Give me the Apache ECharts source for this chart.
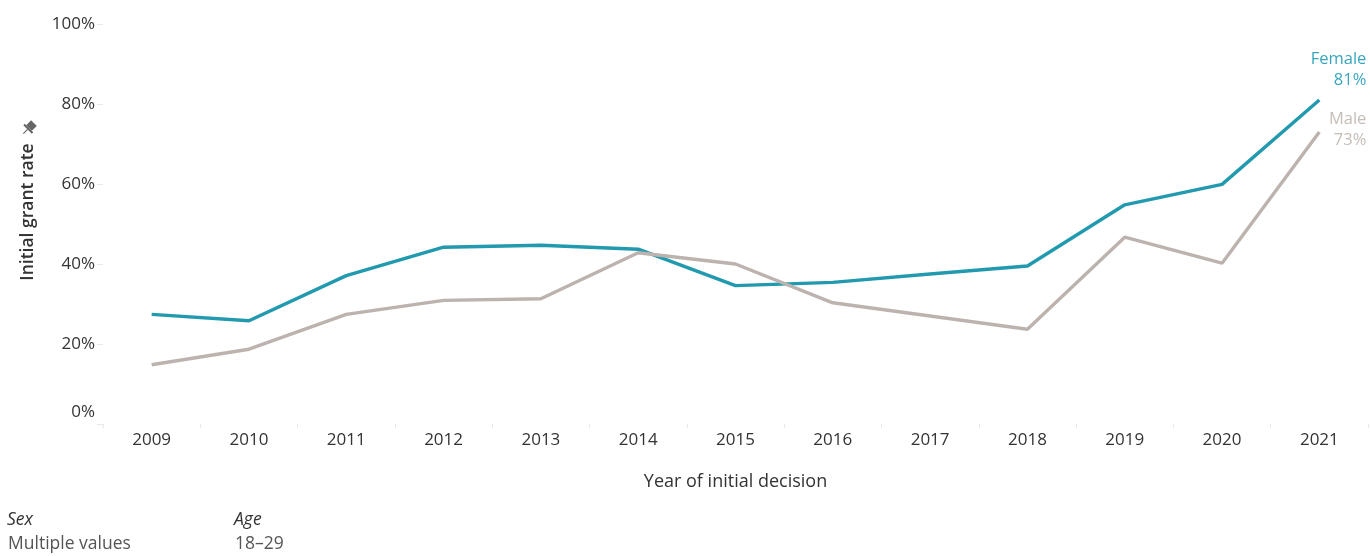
<!DOCTYPE html>
<html>
<head>
<meta charset="utf-8">
<script src="https://cdn.jsdelivr.net/npm/echarts@6/dist/echarts.min.js"></script>
<style>
  html, body { margin: 0; padding: 0; background: #fff; }
  #chart { width: 1370px; height: 556px; }
</style>
</head>
<body>
<div id="chart"></div>
<script>
// data
var years = ['2009', '2010', '2011', '2012', '2013', '2014', '2015', '2016', '2017', '2018', '2019', '2020', '2021'];
var femaleRate = [27.4, 25.8, 37.1, 44.2, 44.7, 43.7, 34.6, 35.4, 37.5, 39.5, 54.8, 59.9, 81.0];
var maleRate = [14.8, 18.7, 27.4, 30.9, 31.3, 42.8, 40.0, 30.3, 27.0, 23.7, 46.7, 40.2, 73.0];
var yTicks = [0, 20, 40, 60, 80, 100];

var FONT = '"Open Sans", "Noto Sans", sans-serif';
var TEAL = '#2199ae';
var GREY = '#bcb3ae';

var chart = echarts.init(document.getElementById('chart'));

chart.setOption({
    animation: false,
    grid: {
        left: 103,
        right: 2,
        top: 24,
        bottom: 132
    },
    xAxis: {
        type: 'category',
        data: years,
        boundaryGap: true,
        name: 'Year of initial decision',
        nameLocation: 'middle',
        nameGap: 49,
        nameTextStyle: { fontFamily: FONT, fontSize: 18, color: '#333' },
        axisLine: { show: false },
        axisTick: { show: true, length: 4, lineStyle: { color: '#e8e8e8' } },
        axisLabel: { margin: 8, fontFamily: FONT, fontSize: 17, color: '#333' },
        splitLine: { show: false }
    },
    yAxis: {
        type: 'value',
        min: yTicks[0],
        max: yTicks[yTicks.length - 1],
        interval: 20,
        name: 'Initial grant rate',
        nameLocation: 'middle',
        nameGap: 66,
        nameTextStyle: { fontFamily: FONT, fontSize: 17.5, color: '#333', fontWeight: 600, padding: [0, 0, 0, 24] },
        axisLine: { show: false },
        axisTick: { show: true, length: 6, lineStyle: { color: '#e8e8e8' } },
        axisLabel: {
            margin: 8,
            fontFamily: FONT,
            fontSize: 17,
            color: '#333',
            formatter: function (v) {
                // tableau lifts the bottom label a bit
                return v === 0 ? '{z|0%}' : v + '%';
            },
            rich: {
                z: { fontFamily: FONT, fontSize: 17, color: '#333', padding: [0, 0, 24, 0] }
            }
        },
        splitLine: { show: false }
    },
    series: [
        {
            name: 'Female',
            type: 'line',
            data: femaleRate,
            symbol: 'none',
            lineStyle: { color: TEAL, width: 3.4 },
            itemStyle: { color: TEAL },
            endLabel: {
                show: true,
                formatter: function (p) { return p.seriesName + '\n' + Math.round(p.value) + '%'; },
                align: 'right',
                verticalAlign: 'bottom',
                offset: [39, -9],
                lineHeight: 21,
                fontFamily: FONT,
                fontSize: 16.5,
                color: '#3aa6bd'
            }
        },
        {
            name: 'Male',
            type: 'line',
            data: maleRate,
            symbol: 'none',
            lineStyle: { color: GREY, width: 3.4 },
            itemStyle: { color: GREY },
            endLabel: {
                show: true,
                formatter: function (p) { return p.seriesName + '\n' + Math.round(p.value) + '%'; },
                align: 'right',
                verticalAlign: 'bottom',
                offset: [39, 19],
                lineHeight: 21,
                fontFamily: FONT,
                fontSize: 16.5,
                color: '#c6bdb8'
            }
        }
    ],
    graphic: [
        // little pin next to the axis title
        {
            type: 'group',
            x: 29,
            y: 128,
            rotation: -Math.PI / 4,
            children: [
                { type: 'rect', shape: { x: -4, y: -7, width: 8, height: 7 }, style: { fill: '#666' } },
                { type: 'rect', shape: { x: -6, y: 0, width: 12, height: 2 }, style: { fill: '#666' } },
                { type: 'line', shape: { x1: 0, y1: 2, x2: 0, y2: 8 }, style: { stroke: '#666', lineWidth: 1.2 } }
            ]
        },
        { type: 'text', left: 7, top: 511, style: { text: 'Sex', fontFamily: FONT, fontSize: 17.5, fontStyle: 'italic', fill: '#333' } },
        { type: 'text', left: 234, top: 511, style: { text: 'Age', fontFamily: FONT, fontSize: 17.5, fontStyle: 'italic', fill: '#333' } },
        { type: 'text', left: 8, top: 535, style: { text: 'Multiple values', fontFamily: FONT, fontSize: 17.5, fill: '#555' } },
        { type: 'text', left: 235, top: 535, style: { text: '18–29', fontFamily: FONT, fontSize: 17.5, fill: '#555' } }
    ]
});
</script>
</body>
</html>
